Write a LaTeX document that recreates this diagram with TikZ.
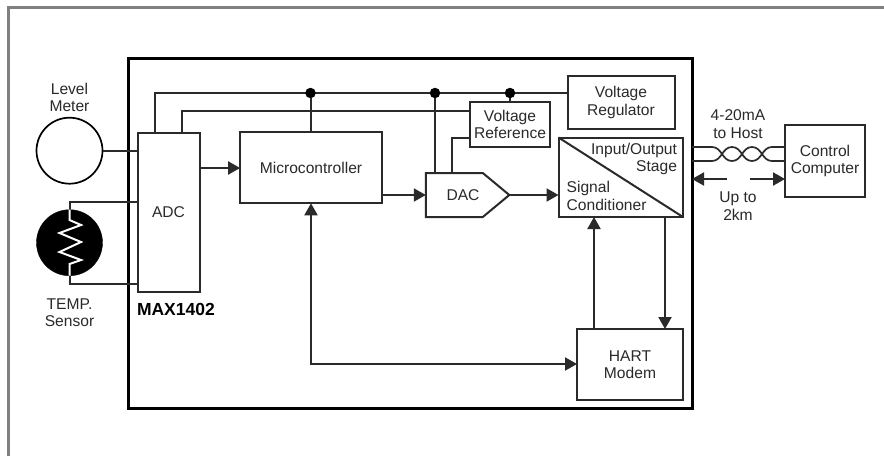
\documentclass[tikz,border=0pt]{standalone}
\usepackage{fontspec}
\setmainfont{Liberation Sans}
\usetikzlibrary{arrows.meta,shapes.symbols,calc}
\definecolor{ink}{HTML}{2A2A2A}
\tikzset{
  x=1pt,y=-1pt,
  every node/.style={font=\fontsize{15.6}{17.5}\selectfont,text=ink,align=center,inner sep=0pt,outer sep=0pt},
  box/.style={draw=ink,line width=2pt,fill=white},
  wire/.style={draw=ink,line width=2pt},
  arrowwire/.style={wire,-{Triangle[length=12pt,width=13pt]}},
  botharrow/.style={wire,{Triangle[length=12pt,width=13pt]}-{Triangle[length=12pt,width=13pt]}},
  dotmark/.style={circle,fill=black,minimum size=10.5pt},
}
\begin{document}
\begin{tikzpicture}
\useasboundingbox (0,0) rectangle (884,456);
\fill[white] (0,0) rectangle (884,456);
% outer frame (top and left only)
\draw[color=black!50,line width=3pt] (8.5,456) -- (8.5,7.5) -- (884,7.5);
% chip outline
\node[draw=black,line width=3pt,minimum width=564pt,minimum height=350pt] (chip) at (410,233) {};
% blocks
\node[box,minimum width=62pt,minimum height=159.5pt] (adc) at (168.5,212.25) {ADC};
\node[box,minimum width=141.7pt,minimum height=71pt] (mcu) at (311,167.8) {Microcontroller};
\node[box,minimum width=80pt,minimum height=44.7pt] (vref) at (510,124.35) {Voltage\\Reference};
\node[box,minimum width=107pt,minimum height=53.3pt] (vreg) at (621,102.35) {Voltage\\Regulator};
\node[box,minimum width=124.5pt,minimum height=79.5pt] (sc) at (620.75,177.25) {};
\node[box,minimum width=106pt,minimum height=71pt] (hart) at (630,364.5) {HART\\Modem};
\node[box,minimum width=80pt,minimum height=71.4pt] (comp) at (825,161) {Control\\Computer};
\node[box,signal,signal to=east,signal from=nowhere,signal pointer angle=79.4,minimum width=83.5pt,minimum height=44pt] (dac) at (454.3,195) {};
\node (daclbl) at (463,195) {DAC};
% sensors
\node[draw=black,line width=1.7pt,circle,minimum size=66pt] (level) at (69.5,150.7) {};
\node[fill=black,draw=black,circle,minimum size=66pt] (temp) at (69.5,242.7) {};
% signal conditioner contents
\draw[wire] (sc.north west) -- (sc.south east);
\node[anchor=east,align=right] (io) at (677,159) {Input/Output\\Stage};
\node[anchor=west,align=left] (sig) at (566.7,196) {Signal\\Conditioner};
% buses
\coordinate (bustop) at (155,93);
\coordinate (buslow) at (181.5,111);
\draw[wire] (bustop |- adc.north) -- (bustop) -- (bustop -| vreg.west);
\draw[wire] (buslow |- adc.north) -- (buslow) -- (buslow -| vref.west);
\node[dotmark] (d1) at (310.5,93) {};
\node[dotmark] (d2) at (435,93) {};
\node[dotmark] (d3) at (510,93) {};
\draw[wire] (d1) -- (d1 |- mcu.north);
\draw[wire] (d2) -- (d2 |- dac.north);
\draw[wire] (d3) -- (vref.north);
\coordinate (rr) at (452,137.7);
\draw[wire] (rr -| vref.west) -- (rr) -- (rr |- dac.north);
% signal path
\draw[wire] (level.east) -- (level.east -| adc.west);
\coordinate (ta) at (69.5,201.7);
\coordinate (tb) at (69.5,284);
\draw[wire] (ta -| adc.west) -- (ta) -- (temp.north);
\draw[wire] (tb -| adc.west) -- (tb) -- (temp.south);
\draw[white,line width=2pt,line join=miter] (temp.north) -- (69.5,220) -- (81,225) -- (59.5,233) -- (81,242) -- (59.5,252) -- (81,260) -- (69.5,264) -- (temp.south);
\coordinate (am) at (0,168);
\draw[arrowwire] (adc.east |- am) -- (mcu.west |- am);
\draw[arrowwire] (mcu.east |- dac.center) -- (dac.west |- dac.center);
\draw[arrowwire] (dac.east) -- (sc.west |- dac.east);
\coordinate (hl) at (311,364);
\draw[botharrow] (mcu.south -| hl) -- (hl) -- (hart.west |- hl);
\coordinate (up) at (594,300);
\coordinate (dn) at (665,300);
\draw[arrowwire] (up |- hart.north) -- (up |- sc.south);
\draw[arrowwire] (dn |- sc.south) -- (dn |- hart.north);
% twisted pair
\coordinate (wt) at (692,147);
\coordinate (wb) at (692,161);
\draw[wire,line width=1.7pt] (wt) -- (712,147) .. controls (722,147) and (722,161) .. (732,161) .. controls (742,161) and (742,147) .. (752,147) .. controls (762,147) and (762,161) .. (772,161) -- (wb -| comp.west);
\draw[wire,line width=1.7pt] (wb) -- (712,161) .. controls (722,161) and (722,147) .. (732,147) .. controls (742,147) and (742,161) .. (752,161) .. controls (762,161) and (762,147) .. (772,147) -- (wt -| comp.west);
% distance arrows
\coordinate (al) at (727,179);
\coordinate (ar) at (750,179);
\draw[arrowwire] (al) -- (al -| chip.east);
\draw[arrowwire] (ar) -- (ar -| comp.west);
% labels
\node (lvl) at (69.5,97.5) {Level\\Meter};
\node (tmp) at (69.5,312.5) {TEMP.\\Sensor};
\node[anchor=west,font=\fontsize{17.5}{19}\selectfont\bfseries,text=black] (max) at (137,309) {MAX1402};
\node (host) at (738,124) {4-20mA\\to Host};
\node (dist) at (738,206) {Up to\\2km};
\end{tikzpicture}
\end{document}
